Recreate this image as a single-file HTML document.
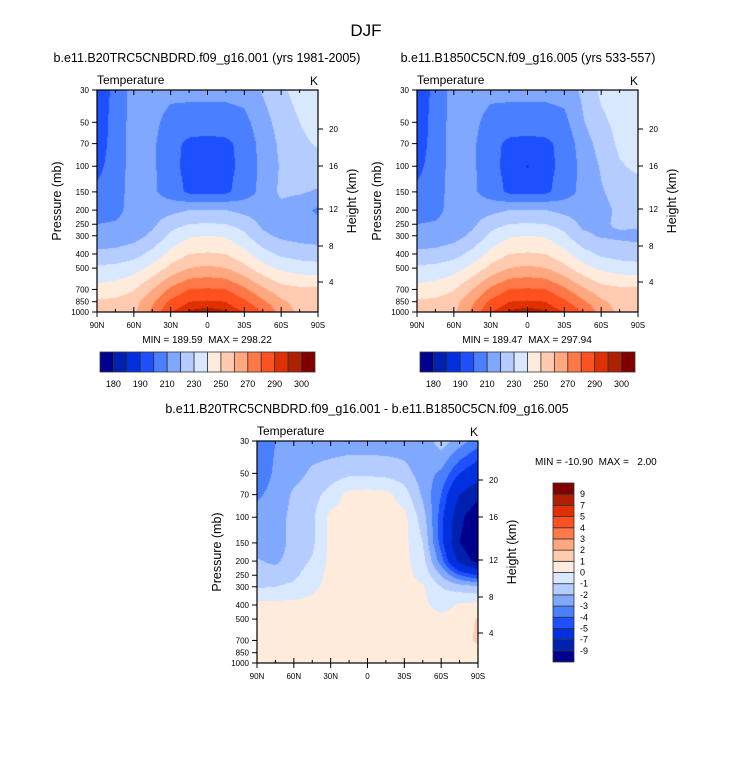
<!DOCTYPE html>
<html><head><meta charset="utf-8"><style>
body{margin:0;background:#fff;width:733px;height:758px;overflow:hidden;position:relative;font-family:"Liberation Sans",sans-serif}
svg{position:absolute;left:0;top:0}
canvas{position:absolute}
text{white-space:pre}
</style></head><body>
<canvas id="c1" width="221" height="222" style="left:97px;top:90px"></canvas>
<canvas id="c2" width="221" height="222" style="left:417px;top:90px"></canvas>
<canvas id="c3" width="221" height="222" style="left:257px;top:441px"></canvas>
<svg id="s" width="733" height="758"></svg>
<script>
const pLevels=[30,50,70,100,150,200,250,300,400,500,700,850,1000];
const lats=[90,75,60,45,30,15,0,-15,-30,-45,-60,-75,-90];
const colors=["#00008f","#0020b0","#0030e0","#1f50ff","#4a7fff","#80a8ff","#b4ccff","#d8e8ff","#ffebdb","#ffcbb0","#ffa880","#ff7848","#ff5020","#e03000","#b02000","#800000"];
const tLevels=[180,185,190,200,210,220,230,240,250,260,270,280,290,295,300];
const tLabels=["180","190","210","230","250","270","290","300"];
const dLevels=[-9,-7,-5,-4,-3,-2,-1,0,1,2,3,4,5,7,9];
const dLabels=["-9","-7","-5","-4","-3","-2","-1","0","1","2","3","4","5","7","9"];
const pTicks=[30,50,70,100,150,200,250,300,400,500,700,850,1000];
const hTicks=[[20,129],[16,166],[12,209],[8,246],[4,282]];
const latLabels=["90N","60N","30N","0","30S","60S","90S"];
const tempA=[
[193,203,214,215,213,213,213,213,214,221,228,234,236],
[194,204,214,213,206,205,205,205,207,216,224,230,234],
[195,204,214,212,203,198,197,198,203,214,222,228,231],
[197,205,214,212,203,197,195,197,203,213,221,226,226],
[202,206,214,212,205,198,198,198,205,213,222,221,219],
[206,207,214,215,217,220,220,220,217,215,217,214,208],
[210,211,214,218,226,230,231,230,226,218,216,215,214],
[214,214,216,222,232,239,240,239,232,222,218,216,215],
[222,223,226,233,243,250,251,250,243,234,228,226,225],
[232,233,236,243,253,260,262,260,253,244,238,235,234],
[243,245,249,260,272,280,281,280,272,262,254,252,252],
[252,252,256,268,282,290,291,290,282,272,262,256,254],
[254,254,258,272,290,296,298,296,290,280,266,258,254]];
const tempB=[
[193,203,214,215,213,213,213,213,214,222,232,234,236],
[194,204,214,213,206,205,205,205,207,219,228,233,235],
[195,204,214,212,203,198,197,198,203,215,224,232,234],
[197,205,214,212,203,197,189.5,197,203,213,221,229,232],
[202,206,214,212,205,198,198,198,205,213,219,224,226],
[206,207,214,215,217,220,220,220,217,215,217,222,224],
[210,211,214,218,226,230,231,230,226,218,218,222,222],
[214,214,216,222,232,239,240,239,232,222,219,218,217],
[222,223,226,233,243,250,251,250,243,234,228,226,225],
[232,233,236,243,253,260,262,260,253,244,238,235,234],
[243,245,249,260,272,280,281,280,272,262,254,252,252],
[252,252,256,268,282,290,291,290,282,272,262,256,254],
[254,254,258,272,290,296,298,296,290,280,266,258,254]];
const diff=[
[-3.5,-3.0,-2.6,-2.6,-2.6,-2.6,-2.6,-2.6,-2.6,-2.7,-1.5,-2.5,-3.5],
[-3.4,-2.9,-2.4,-1.8,-1.5,-1.2,-1.2,-1.3,-1.6,-2.5,-3.2,-5,-6],
[-3.1,-2.8,-1.8,-1.4,-0.6,0.3,0.4,0.3,-0.5,-2.2,-4,-7,-8.5],
[-2.8,-2.6,-1.6,-1.2,0.3,0.4,0.4,0.4,0.3,-1.5,-4.5,-8.5,-10.5],
[-2.5,-2.6,-1.6,-1.2,0.3,0.4,0.4,0.4,0.3,-1,-4.5,-9,-10.9],
[-1.9,-2.2,-1.5,-0.9,0.3,0.4,0.4,0.4,0.3,-0.6,-3.5,-7.5,-9.8],
[-1.5,-1.5,-1.2,-0.5,0.3,0.4,0.4,0.4,0.3,-0.3,-2,-4,-5],
[-1.1,-1,-0.8,-0.2,0.3,0.4,0.4,0.4,0.3,0.1,-1,-1.5,-1.8],
[0.3,0.3,0.3,0.3,0.3,0.4,0.4,0.4,0.3,0.3,-0.5,0.2,0.3],
[0.4,0.4,0.4,0.4,0.4,0.4,0.4,0.4,0.4,0.4,0.4,0.5,1.1],
[0.4,0.4,0.4,0.4,0.4,0.4,0.4,0.4,0.4,0.4,0.4,0.5,1.2],
[0.4,0.4,0.4,0.4,0.4,0.4,0.4,0.4,0.4,0.4,0.4,0.4,0.6],
[0.5,1.2,0.6,0.4,0.4,0.4,0.4,0.4,0.4,0.4,0.4,0.4,0.5]];

const W=221,H=222;
const lp=p=>Math.log(p);
const yOfP=p=>H*(lp(p)-lp(30))/(lp(1000)-lp(30));
const pOfY=y=>Math.exp(lp(30)+y/H*(lp(1000)-lp(30)));
function sample(g,lat,p){
  let ci=(90-lat)/15; let c0=Math.min(11,Math.floor(ci)); let fc=ci-c0;
  let r0=0; while(r0<11&&pLevels[r0+1]<p) r0++;
  let fr=(lp(p)-lp(pLevels[r0]))/(lp(pLevels[r0+1])-lp(pLevels[r0]));
  fr=Math.max(0,Math.min(1,fr));
  const a=g[r0][c0],b=g[r0][c0+1],c=g[r0+1][c0],d=g[r0+1][c0+1];
  return (a*(1-fc)+b*fc)*(1-fr)+(c*(1-fc)+d*fc)*fr;
}
function colorIdx(v,lev){let i=0;while(i<lev.length&&v>=lev[i])i++;return i;}
function drawField(id,g,lev){
  const ctx=document.getElementById(id).getContext('2d');
  for(let y=0;y<H;y++){const p=pOfY(y+0.5);
    for(let x=0;x<W;x++){const lat=90-180*(x+0.5)/W;
      ctx.fillStyle=colors[colorIdx(sample(g,lat,p),lev)];ctx.fillRect(x,y,1,1);}}
}
drawField('c1',tempA,tLevels);drawField('c2',tempB,tLevels);drawField('c3',diff,dLevels);

const s=document.getElementById('s');const NS='http://www.w3.org/2000/svg';
function el(t,a,txt){const e=document.createElementNS(NS,t);for(const k in a)e.setAttribute(k,a[k]);if(txt!==undefined)e.textContent=txt;s.appendChild(e);return e;}
function txt(x,y,t,size,anchor,name,extra){const e=el('text',Object.assign({x:x,y:y,'font-size':size,'text-anchor':anchor||'start',fill:'#000','font-family':'Liberation Sans, sans-serif'},extra||{}),t);

return e;}

let e=txt(366,36,'DJF',17,'middle','figure-title');
function panel(x0,y0,title,tx,name){
  if(title){e=txt(tx,62,title,12.5,'middle',name+'-title');}
  txt(x0,y0-6,'Temperature',12,'start',name+'-variable-label');
  txt(x0+W,y0-5,'K',12,'end',name+'-units-label');
  e=el('rect',{x:x0,y:y0,width:W,height:H,fill:'none',stroke:'#000','stroke-width':1.2});
  
  
  pTicks.forEach(p=>{const y=y0+yOfP(p);
    e=el('line',{x1:x0-5,x2:x0,y1:y,y2:y,stroke:'#000'});
    
    
    txt(x0-8,y+3,String(p),8,'end','pressure-tick-label');});
  txt(x0-36,y0+111,'Pressure (mb)',12.5,'middle',name+'-y-axis-title',{transform:`rotate(-90 ${x0-36} ${y0+111})`});
  hTicks.forEach(h=>{const y=y0+h[1]-90;
    e=el('line',{x1:x0+W,x2:x0+W+5,y1:y,y2:y,stroke:'#000'});
    
    
    txt(x0+W+11,y+3,String(h[0]),8,'start','height-tick-label');});
  txt(x0+W+38,y0+111,'Height (km)',12.5,'middle',name+'-right-axis-title',{transform:`rotate(-90 ${x0+W+38} ${y0+111})`});
  for(let i=0;i<=12;i++){const x=x0+W*i/12;const len=i%2?3:5;
    e=el('line',{x1:x,x2:x,y1:y0+H,y2:y0+H+ (i%2?0:5),stroke:'#000'});
    
    
    e=el('line',{x1:x,x2:x,y1:y0,y2:y0+len,stroke:'#000'});
    
    
    e=el('line',{x1:x,x2:x,y1:y0+H,y2:y0+H-len,stroke:'#000'});
    
    }
  latLabels.forEach((l,i)=>txt(x0+W*i/6,y0+H+16,l,8,'middle','lat-tick-label'));
}
panel(97,90,'b.e11.B20TRC5CNBDRD.f09_g16.001 (yrs 1981-2005)',207,'left-panel');
panel(417,90,'b.e11.B1850C5CN.f09_g16.005 (yrs 533-557)',528,'right-panel');
panel(257,441,null,0,'diff-panel');
txt(207,343,'MIN = 189.59  MAX = 298.22',10,'middle','left-min-max');
txt(527,343,'MIN = 189.47  MAX = 297.94',10,'middle','right-min-max');
txt(367,413,'b.e11.B20TRC5CNBDRD.f09_g16.001 - b.e11.B1850C5CN.f09_g16.005',12.5,'middle','difference-title');
txt(535,465,'MIN = -10.90  MAX =   2.00',10,'start','diff-min-max');

function hbar(x0,name){const bw=215/16;
  colors.forEach((c,i)=>{e=el('rect',{x:x0+i*bw,y:352,width:bw,height:20,fill:c,stroke:'#333','stroke-width':0.8});
    
    });
  tLabels.forEach((l,k)=>txt(x0+(2*k+1)*bw,387,l,9,'middle','colorbar-label'));
}
hbar(100,'left-colorbar');hbar(420,'right-colorbar');
const vb=179/16;
colors.forEach((c,i)=>{e=el('rect',{x:553,y:662-(i+1)*vb,width:21,height:vb,fill:c,stroke:'#333','stroke-width':0.8});
  
  });
dLabels.forEach((l,k)=>txt(580,662-(k+1)*vb+3,l,9,'start','diff-colorbar-label'));
</script>
</body></html>
